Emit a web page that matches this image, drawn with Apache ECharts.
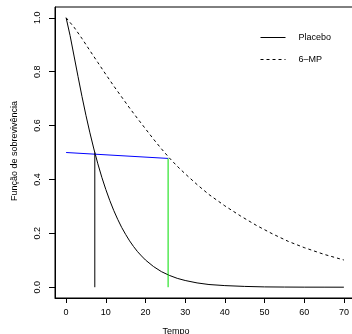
<!DOCTYPE html>
<html>
<head>
<meta charset="utf-8">
<script src="https://cdn.jsdelivr.net/npm/echarts@6/dist/echarts.min.js"></script>
<style>
html,body{margin:0;padding:0;background:#fff;}
#chart{width:352px;height:334px;}
</style>
</head>
<body>
<div id="chart"></div>
<script>
// Data
const tempoPlacebo = [0, 1, 2, 3, 4, 5, 6, 7, 8, 9, 10, 11, 12, 13, 14, 15, 16, 17, 18, 19, 20, 22, 24, 26, 28, 30, 33, 36, 40, 45, 50, 55, 60, 65, 70];
const survPlacebo  = [1.0, 0.934, 0.858, 0.782, 0.708, 0.638, 0.573, 0.513, 0.458, 0.408, 0.363, 0.322, 0.285, 0.252, 0.222, 0.196, 0.172, 0.151, 0.132, 0.116, 0.101, 0.077, 0.058, 0.044, 0.033, 0.025, 0.016, 0.010, 0.006, 0.003, 0.0012, 0.0006, 0.0003, 0.0002, 0.0001];
const tempoMP = [0, 2, 4, 6, 8, 10, 12, 14, 16, 18, 20, 22, 24, 26, 28, 30, 33, 36, 40, 44, 48, 52, 56, 60, 65, 70];
const survMP  = [1.0, 0.965, 0.923, 0.878, 0.834, 0.790, 0.747, 0.706, 0.665, 0.626, 0.588, 0.550, 0.514, 0.480, 0.449, 0.421, 0.381, 0.344, 0.302, 0.264, 0.229, 0.198, 0.170, 0.147, 0.122, 0.101];
const medianPlacebo = 7.23;
const median6MP = 25.7;
const blueStart = [0, 0.5];
const blueEnd = [25.7, 0.478];
const xTicks = [0, 10, 20, 30, 40, 50, 60, 70];
const yTicks = [0, 0.2, 0.4, 0.6, 0.8, 1.0];
const seriesNames = ['Placebo', '6–MP'];
const xTitle = 'Tempo';
const yTitle = 'Função de sobrevivência';

const zip = (xs, ys) => xs.map((x, i) => [x, ys[i]]);
const font = 'Liberation Sans, Arial, Helvetica, sans-serif';

const chart = echarts.init(document.getElementById('chart'));
chart.setOption({
  animation: false,
  grid: {left: 55, top: 7, width: 300, height: 291, outerBoundsMode: 'none',
    show: true, borderColor: '#000', borderWidth: 1},
  legend: {
    data: seriesNames,
    orient: 'vertical',
    left: 260, top: 33, padding: 0,
    itemWidth: 25, itemHeight: 10, itemGap: 13,
    itemStyle: {color: 'rgba(0,0,0,0)', borderWidth: 0, opacity: 0},
    lineStyle: {width: 1},
    textStyle: {fontFamily: font, fontSize: 9, color: '#000', padding: [0, 0, 0, 8]}
  },
  graphic: [
    {type: 'text', left: 'center', top: 327, style: {text: xTitle, font: '9px ' + font, fill: '#000'}, z: 10},
    {type: 'text', x: 15, y: 151, rotation: Math.PI / 2,
      style: {text: yTitle, font: '9px ' + font, fill: '#000', align: 'center', verticalAlign: 'middle'}, z: 10}
  ],
  xAxis: {
    type: 'value', min: -2.8, max: 72.8,
    axisLine: {show: true, onZero: false, lineStyle: {color: '#000', width: 1}},
    axisTick: {show: true, length: 5, lineStyle: {color: '#000', width: 1}, customValues: xTicks},
    axisLabel: {fontFamily: font, fontSize: 9, color: '#000', margin: 10, customValues: xTicks},
    splitLine: {show: false}
  },
  yAxis: {
    type: 'value', min: -0.04, max: 1.04,
    axisLine: {show: true, onZero: false, lineStyle: {color: '#000', width: 1}},
    axisTick: {show: true, length: 6, lineStyle: {color: '#000', width: 1}, customValues: yTicks},
    axisLabel: {fontFamily: font, fontSize: 9, color: '#000', margin: 13, rotate: 90, customValues: yTicks,
      formatter: v => v.toFixed(1)},
    splitLine: {show: false}
  },
  series: [
    {name: seriesNames[0], type: 'line', data: zip(tempoPlacebo, survPlacebo), symbol: 'none',
      lineStyle: {color: '#000', width: 1}, itemStyle: {color: '#000'}},
    {name: seriesNames[1], type: 'line', data: zip(tempoMP, survMP), symbol: 'none',
      lineStyle: {color: '#000', width: 1, type: [3, 3]}, itemStyle: {color: '#000'}},
    {name: 'hline', type: 'line', data: [blueStart, blueEnd], symbol: 'none',
      lineStyle: {color: '#0000ff', width: 1}},
    {name: 'vPlacebo', type: 'line', data: [[medianPlacebo, 0], [medianPlacebo, blueStart[1]]], symbol: 'none',
      lineStyle: {color: '#000', width: 1}},
    {name: 'v6MP', type: 'line', data: [[median6MP, 0], [median6MP, blueEnd[1]]], symbol: 'none',
      lineStyle: {color: '#00dd00', width: 1}}
  ]
});
</script>
</body>
</html>
